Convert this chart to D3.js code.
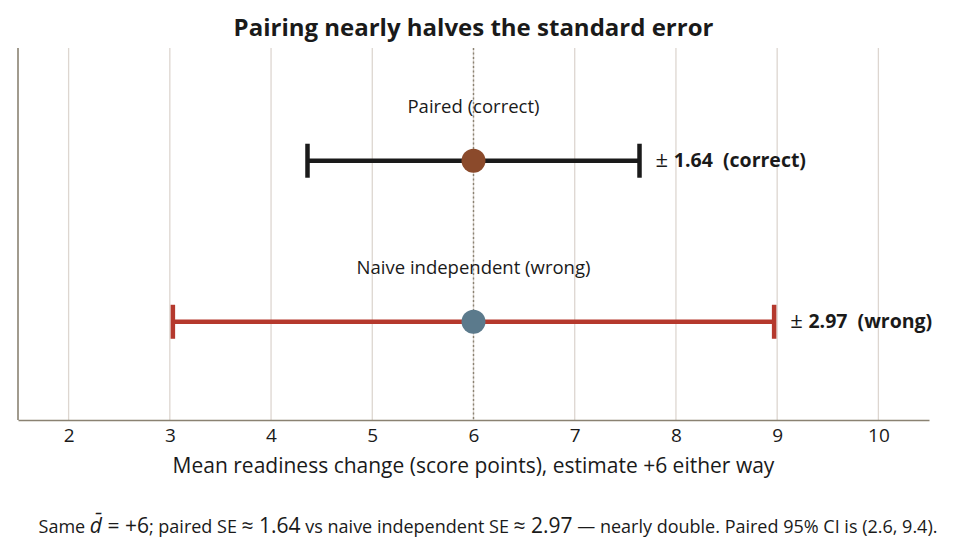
<!DOCTYPE html>
<html>
<head>
<meta charset="utf-8">
<script src="https://cdn.jsdelivr.net/npm/d3@7"></script>
<style>
  body { margin: 0; background: #fff; }
  text { font-family: "Open Sans", "Noto Sans", sans-serif; fill: #1a1a1a; }
</style>
</head>
<body>
<div id="chart"></div>
<script>
// ---- data ----
var methods = ["Paired (correct)", "Naive independent (wrong)"];
var estimates = [6, 6];
var halfWidths = [1.64, 2.97];
var verdicts = ["correct", "wrong"];
var xTicks = [2, 3, 4, 5, 6, 7, 8, 9, 10];

var barColors = ["#1a1a1a", "#b5392d"];
var dotColors = ["#8b4a2b", "#5b7a8c"];

var W = 959, H = 556;
var margin = { top: 48, right: 30, bottom: 136, left: 18 };

var svg = d3.select("#chart").append("svg")
  .attr("width", W).attr("height", H);

var x = d3.scaleLinear().domain([1.5, 10.5]).range([margin.left, W - margin.right]);
// row position: paired on top (1), naive below (0)
var y = d3.scaleLinear().domain([-0.61, 1.7]).range([H - margin.bottom, margin.top]);
var rowPos = [1, 0];

// grid
svg.append("g").selectAll("line")
  .data(xTicks)
  .join("line")
  .attr("x1", d => x(d)).attr("x2", d => x(d))
  .attr("y1", margin.top).attr("y2", H - margin.bottom)
  .attr("stroke", "#ddd6d0").attr("stroke-width", 1.3);

// x axis (no tick marks)
var xAxis = svg.append("g")
  .attr("transform", `translate(0,${H - margin.bottom})`)
  .call(d3.axisBottom(x).tickValues(xTicks).tickSize(0).tickPadding(9));
xAxis.select(".domain").attr("stroke", "#8a8272").attr("stroke-width", 1.6);
xAxis.selectAll("text").attr("font-size", 19).style("font-family", "'Open Sans', sans-serif").attr("fill", "#1a1a1a");

// left spine
svg.append("line")
  .attr("x1", margin.left).attr("x2", margin.left)
  .attr("y1", margin.top).attr("y2", H - margin.bottom)
  .attr("stroke", "#8a8272").attr("stroke-width", 1.6);

// reference line at the estimate
svg.append("line")
  .attr("x1", x(6)).attr("x2", x(6))
  .attr("y1", margin.top).attr("y2", H - margin.bottom)
  .attr("stroke", "#8a8272").attr("stroke-width", 1.4)
  .attr("stroke-dasharray", "2,2.5");

// error bars
methods.forEach((m, i) => {
  var cy = y(rowPos[i]);
  var lo = estimates[i] - halfWidths[i], hi = estimates[i] + halfWidths[i];
  var g = svg.append("g");
  g.append("line")
    .attr("x1", x(lo)).attr("x2", x(hi))
    .attr("y1", cy).attr("y2", cy)
    .attr("stroke", barColors[i]).attr("stroke-width", 4.5);
  [lo, hi].forEach(v => {
    g.append("line")
      .attr("x1", x(v)).attr("x2", x(v))
      .attr("y1", cy - 17).attr("y2", cy + 17)
      .attr("stroke", barColors[i]).attr("stroke-width", 4.5);
  });
  g.append("circle")
    .attr("cx", x(estimates[i])).attr("cy", cy).attr("r", 12)
    .attr("fill", dotColors[i]);

  // method label above
  svg.append("text")
    .attr("x", x(estimates[i])).attr("y", cy - 48)
    .attr("text-anchor", "middle")
    .attr("font-size", 18.5)
    .text(m);

  // half-width label
  var lab = svg.append("text")
    .attr("x", x(hi) + 16).attr("y", cy + 6)
    .attr("font-size", 19.5).attr("font-weight", "bold")
    .attr("xml:space", "preserve");
  lab.append("tspan").attr("font-weight", "normal").attr("font-size", 22).text("\u00b1 ");
  lab.append("tspan").text(`${halfWidths[i].toFixed(2)}  (${verdicts[i]})`);
});

// title
svg.append("text")
  .attr("x", (margin.left + W - margin.right) / 2).attr("y", 36)
  .attr("text-anchor", "middle")
  .attr("font-size", 24).attr("font-weight", "bold")
  .text("Pairing nearly halves the standard error");

// x label
svg.append("text")
  .attr("x", (margin.left + W - margin.right) / 2).attr("y", 473)
  .attr("text-anchor", "middle")
  .attr("font-size", 21)
  .text("Mean readiness change (score points), estimate +6 either way");

// footnote
var note = svg.append("text")
  .attr("x", 488).attr("y", 533)
  .attr("text-anchor", "middle")
  .attr("font-size", 18)
  .attr("xml:space", "preserve");
note.append("tspan").text("Same ");
note.append("tspan").attr("font-style", "italic").attr("font-size", 21).text("d\u0304");
note.append("tspan").attr("font-size", 21).text(" = +6");
note.append("tspan").text("; paired SE ");
note.append("tspan").attr("font-size", 21).text("\u2248 1.64");
note.append("tspan").text(" vs naive independent SE ");
note.append("tspan").attr("font-size", 21).text("\u2248 2.97");
note.append("tspan").text(" \u2014 nearly double. Paired 95% CI is (2.6, 9.4).");
</script>
</body>
</html>
